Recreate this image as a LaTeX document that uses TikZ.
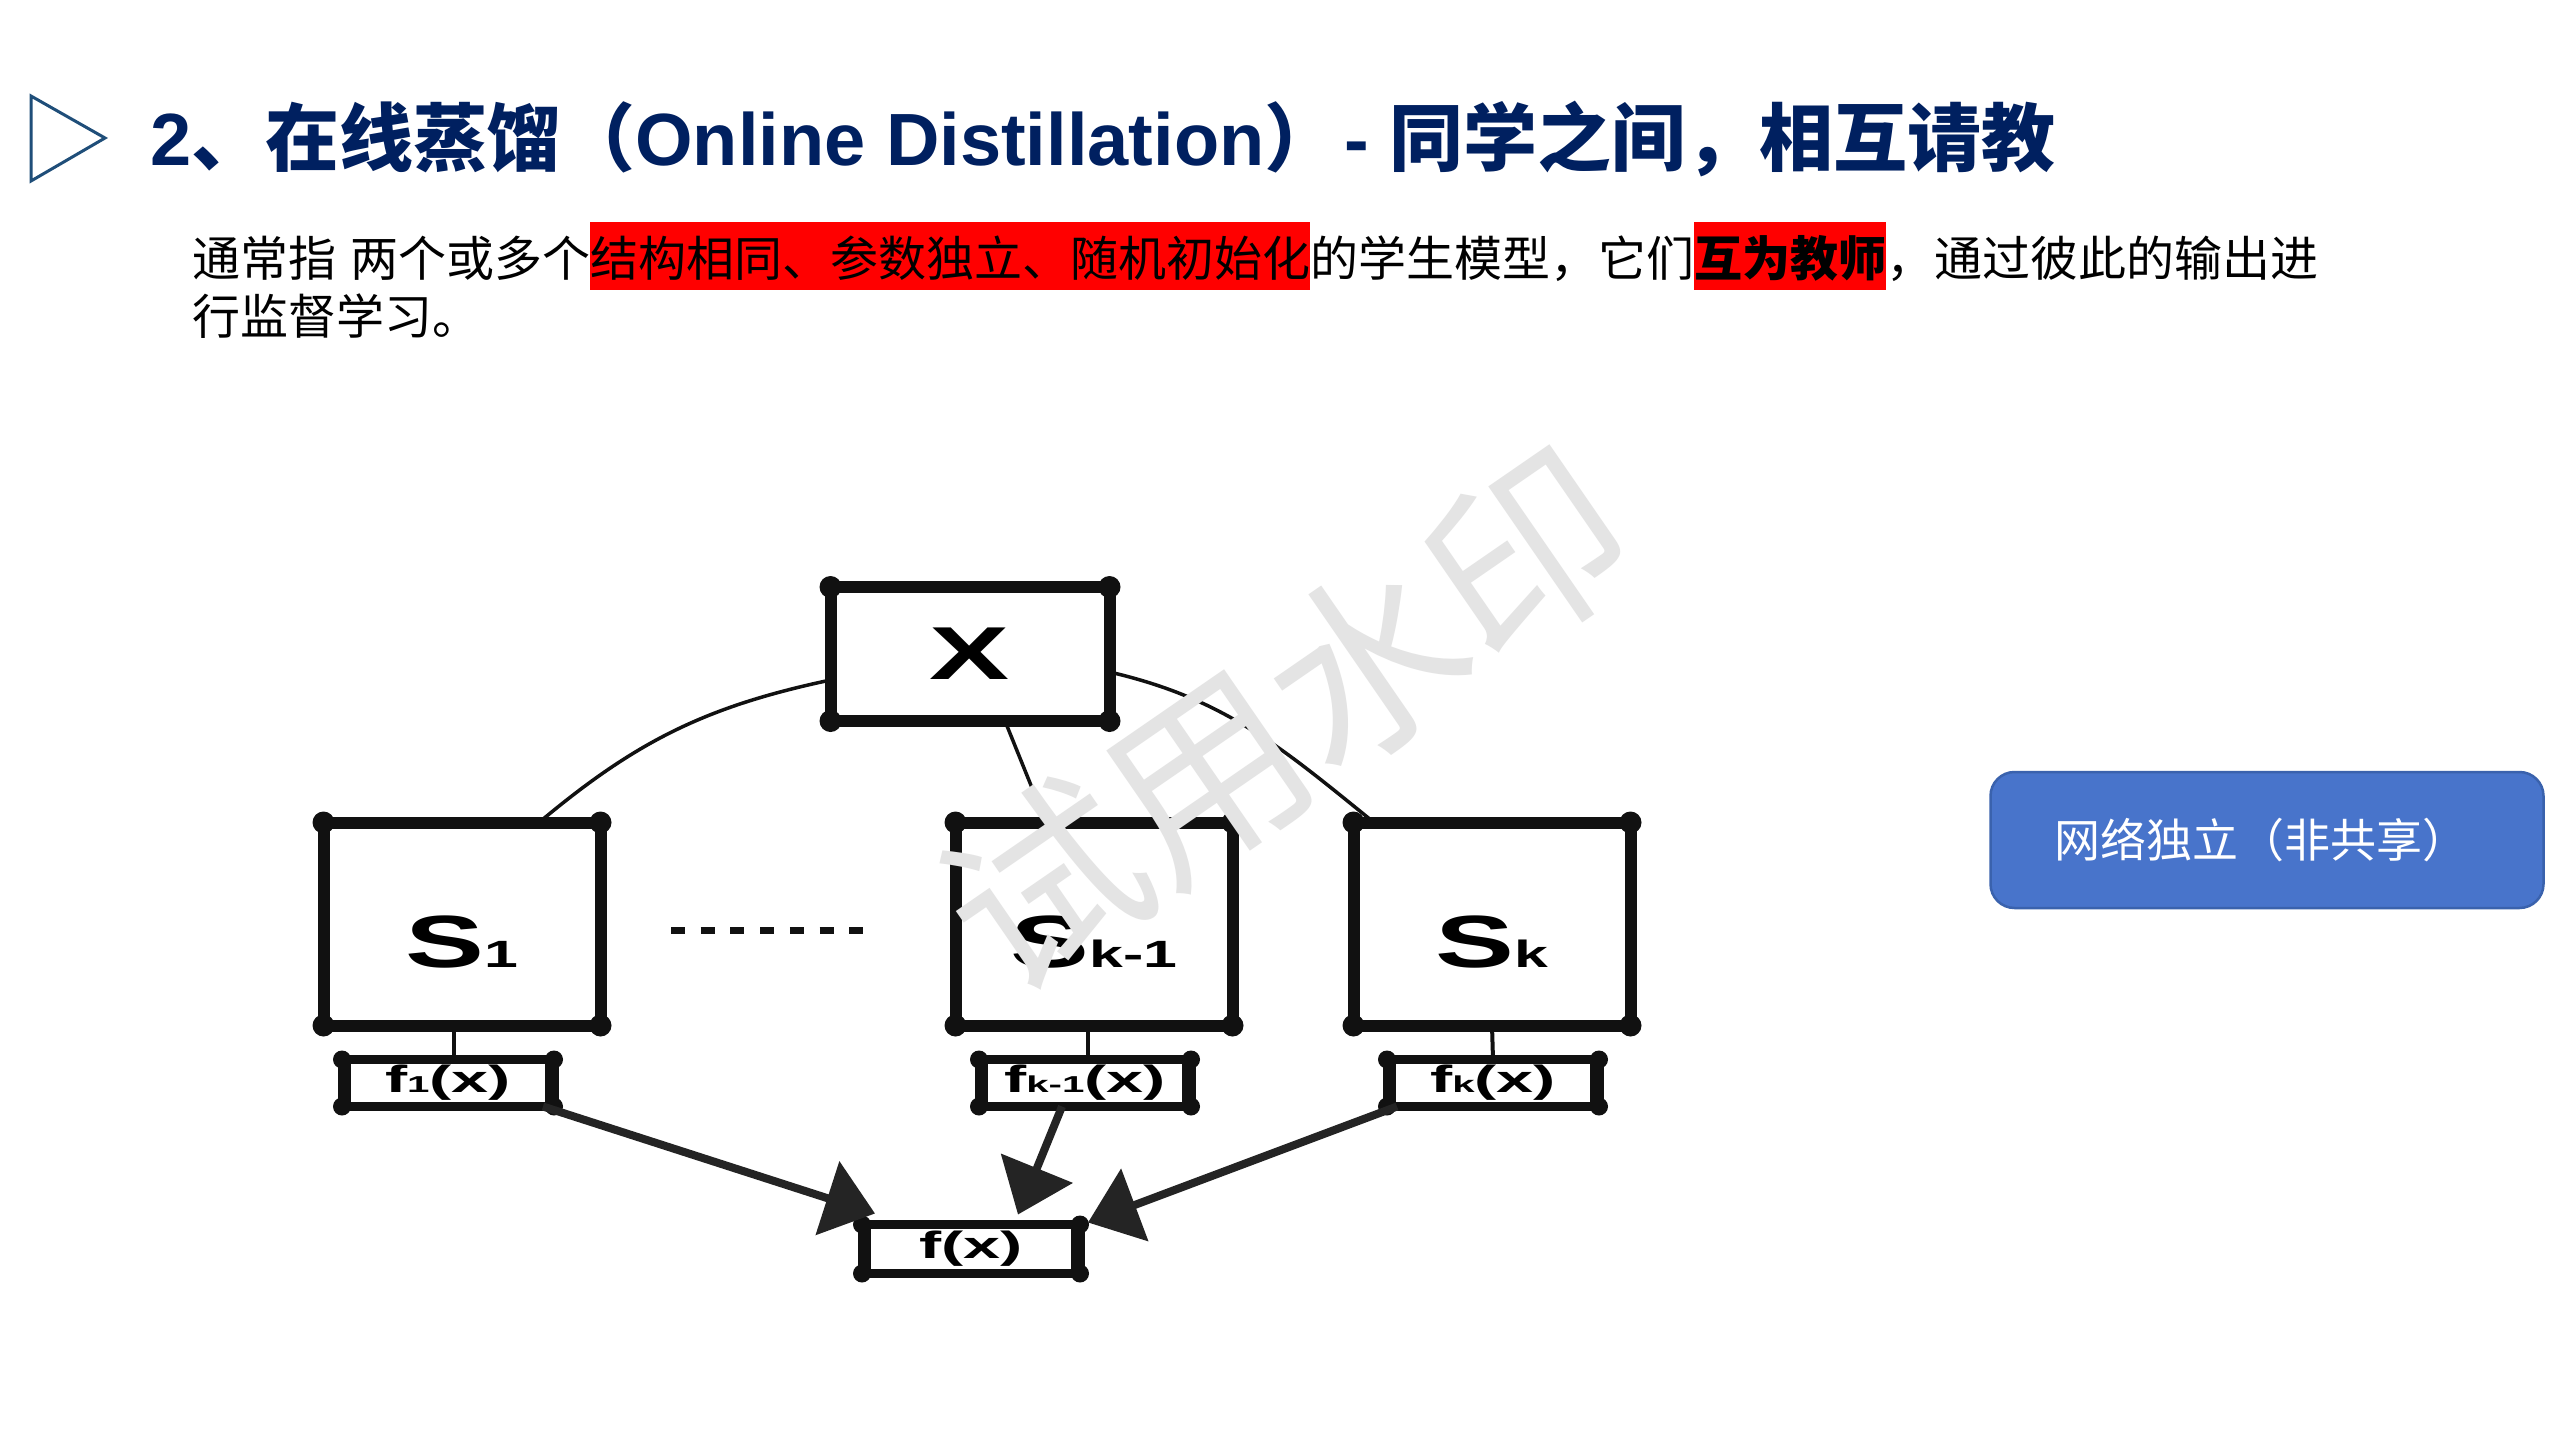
\documentclass[tikz,border=0pt]{standalone}
\usepackage{fontspec}
\usepackage{graphicx}
\setmainfont{Liberation Sans}
\newfontfamily\cjk{Noto Sans CJK SC}
\newfontfamily\lat{Liberation Sans}
\usetikzlibrary{arrows.meta}
\definecolor{navy}{HTML}{002060}
\definecolor{tri}{HTML}{1F4E79}
\definecolor{hlred}{HTML}{FF0000}
\definecolor{btnfill}{HTML}{4874CB}
\definecolor{btnline}{HTML}{3A62AD}
\definecolor{ink}{HTML}{111111}
\definecolor{wm}{HTML}{E4E4E4}
\newcommand\hlbox[1]{{\setlength\fboxsep{0pt}\colorbox{hlred}{\rule[-14pt]{0pt}{68pt}#1}}}
\newcommand\fs[1]{\fontsize{#1}{#1}\selectfont}
\newcommand\slab[2]{\raisebox{-18pt}[\height][\depth]{\scalebox{1.6}[1]{\fs{74}S\fs{38}#1}}}
\newcommand\flab[1]{\scalebox{1.75}[1]{\fs{38}f\fs{23}#1\fs{38}(x)}}
\begin{document}
\begin{tikzpicture}[x=1pt,y=1pt,
  bigbox/.style={draw=ink, line width=12, minimum width=277, minimum height=203, inner sep=0, outer sep=0, font=\lat\bfseries},
  xbox/.style={draw=ink, line width=12, minimum width=279, minimum height=134, inner sep=0, outer sep=0, font=\lat\bfseries},
  fbox/.style={draw=ink, line width=9, minimum width=212, minimum height=47, inner sep=0, outer sep=0, font=\lat\bfseries},
  link/.style={draw=ink, line width=3.5},
  stem/.style={draw=ink, line width=4},
  flow/.style={draw=ink!92, line width=8, -{Triangle[length=50pt, width=76pt]}},
  plain/.style={anchor=base west, inner sep=0}
]
\fill[white] (0,0) rectangle (2560,-1440);
\useasboundingbox (0,0) rectangle (2560,-1440);

% heading
\draw[tri, line width=3] (31,-96) -- (105,-138) -- (31,-181) -- cycle;
\node[plain, text=navy, font=\bfseries] (title) at (150,-165)
  {\lat\fs{74}2\cjk 、在线蒸馏（\lat Online Distillation\cjk ）\lat{}\hspace{6pt}- \cjk 同学之间，相互请教};

% body text
\node[plain, font=\cjk\fs{48}] (body1) at (192,-276)
  {通常指\hspace{14pt}两个或多个\hlbox{结构相同、参数独立、随机初始化}的学生模型，它们\hlbox{\bfseries 互为教师}，通过彼此的输出进};
\node[plain, font=\cjk\fs{48}] (body2) at (192,-334) {行监督学习。};

% diagram boxes
\node[xbox] (X) at (970,-654) {\scalebox{1.6}[1]{\fs{75}X}};
\node[bigbox] (S1) at (462,-924) {\slab{1}{}};
\node[bigbox] (Sk1) at (1094,-924) {\slab{k-1}{}};
\node[bigbox] (Sk) at (1492,-924) {\slab{k}{}};
\node[fbox] (f1) at (448,-1083) {\flab{1}};
\node[fbox] (fk1) at (1085,-1083) {\flab{k-1}};
\node[fbox] (fk) at (1493,-1083) {\flab{k}};
\node[fbox, minimum width=218, minimum height=49] (fx) at (971,-1249) {\scalebox{1.75}[1]{\fs{38}f(x)}};

% ink blobs at corners
\foreach \n in {X,S1,Sk1,Sk}{
  \foreach \a in {north west,north east,south west,south east}{
    \fill[ink] (\n.\a) circle (11);
  }
}
\foreach \n in {f1,fk1,fk,fx}{
  \fill[ink] ([xshift=-4.5,yshift=4.5]\n.north west) rectangle ([xshift=9,yshift=-4.5]\n.south west);
  \fill[ink] ([xshift=4.5,yshift=4.5]\n.north east) rectangle ([xshift=-9,yshift=-4.5]\n.south east);
  \foreach \a in {north west,north east,south west,south east}{
    \fill[ink] (\n.\a) circle (9);
  }
}

% dots between S1 and Sk-1
\draw[ink, line width=7, dash pattern=on 14 off 15.7] (671,-930) -- (863,-930);

% connectors
\draw[link] ([yshift=-26]X.west) to[out=192, in=40] ([xshift=77]S1.north);
\draw[link] ([yshift=-18]X.east) to[out=-13, in=141] ([xshift=-118]Sk.north);
\draw[link] ([xshift=35]X.south) -- ([xshift=-48]Sk1.north);
\draw[stem] ([xshift=-8]S1.south) -- ([xshift=6]f1.north);
\draw[stem] ([xshift=-6]Sk1.south) -- ([xshift=3]fk1.north);
\draw[stem] (Sk.south) -- (fk.north);
\draw[flow] ([xshift=-11]f1.south east) -- ([xshift=13,yshift=11]fx.north west);
\draw[flow] ([xshift=-23]fk1.south) -- ([xshift=47,yshift=10]fx.north);
\draw[flow] ([xshift=10]fk.south west) -- ([xshift=8,yshift=2]fx.north east);

% side button
\node[draw=btnline, line width=2.5, fill=btnfill, rounded corners=24, minimum width=553, minimum height=136] (btn) at (2267,-840) {};
\node[text=white, font=\cjk\fs{46}, inner sep=0] (btntext) at ([xshift=-6]btn.center) {网络独立（非共享）};

% watermark
\node[text=wm, rotate=34.6, font=\cjk\fs{195}, inner sep=0] (wmk) at (1286,-720) {试用水印};
\end{tikzpicture}
\end{document}
